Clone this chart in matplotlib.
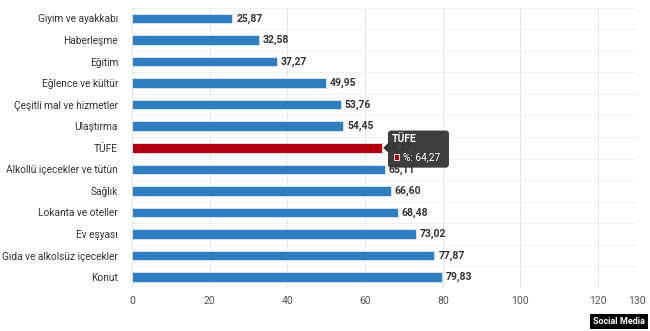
import matplotlib
matplotlib.use("Agg")
import matplotlib.pyplot as plt
from matplotlib.patches import FancyBboxPatch, Rectangle, Polygon

categories = [
    "Giyim ve ayakkabı", "Haberleşme", "Eğitim", "Eğlence ve kültür",
    "Çeşitli mal ve hizmetler", "Ulaştırma", "TÜFE",
    "Alkollü içecekler ve tütün", "Sağlık", "Lokanta ve oteller",
    "Ev eşyası", "Gıda ve alkolsüz içecekler", "Konut",
]
values = [25.87, 32.58, 37.27, 49.95, 53.76, 54.45, 64.27,
          65.11, 66.60, 68.48, 73.02, 77.87, 79.83]
highlight = "TÜFE"
xticks = [0, 20, 40, 60, 80, 100, 120, 130]

plt.rcParams["font.family"] = ["Roboto", "DejaVu Sans"]

fig = plt.figure(figsize=(6.5, 3.31), dpi=100)
ax = fig.add_axes([0.203, 0.13, 0.777, 0.847])

n = len(categories)
ypos = list(range(n))
colors = ["#b0000f" if c == highlight else "#2f7ebf" for c in categories]
ax.barh(ypos, values, height=0.44, color=colors, edgecolor="#dbe8f4",
        linewidth=0.6, zorder=3)

def fmt(v):
    return f"{v:.2f}".replace(".", ",")

for y, v in zip(ypos, values):
    ax.text(v + 1.0, y, fmt(v), va="center", ha="left", fontsize=7.5,
            fontweight="bold", color="#333333", zorder=4)

ax.set_ylim(n - 0.5, -0.5)
ax.set_xlim(0, 130)
ax.set_yticks(ypos)
ax.set_yticklabels(categories, fontsize=7.3, color="#333333")
ax.set_xticks(xticks)
ax.set_xticklabels([str(t) for t in xticks], fontsize=7.5, color="#555555")
ax.tick_params(axis="both", length=0, pad=6)
ax.tick_params(axis="y", pad=10)

# row separators and value gridlines
for b in [i - 0.5 for i in range(n + 1)]:
    ax.axhline(b, color="#eeeeee", linewidth=0.6, zorder=1)
for t in xticks:
    ax.axvline(t, color="#e6e6e6", linewidth=0.7, zorder=1)
for s in ax.spines.values():
    s.set_visible(False)
ax.axhline(n - 0.5, color="#cccccc", linewidth=0.8, zorder=2)

# tooltip for the highlighted bar
hy = categories.index(highlight)
hv = values[hy]
tip_x0, tip_x1 = 65.9, 81.6
tip = FancyBboxPatch((tip_x0, hy - 0.8), tip_x1 - tip_x0, 1.72,
                     boxstyle="round,pad=0,rounding_size=0.8",
                     mutation_aspect=0.18,
                     facecolor="#333333", edgecolor="none", alpha=0.95,
                     zorder=6)
ax.add_patch(tip)
ax.add_patch(Polygon([[tip_x0 + 0.05, hy - 0.22], [tip_x0 + 0.05, hy + 0.22],
                      [hv + 0.4, hy]], closed=True,
                     facecolor="#333333", edgecolor="none", zorder=6))
ax.text(tip_x0 + 1.0, hy - 0.42, highlight, color="white", fontsize=7.5,
        fontweight="bold", va="center", ha="left", zorder=7)
ax.add_patch(Rectangle((tip_x0 + 1.6, hy + 0.42 - 0.13), 1.3, 0.26,
                       facecolor="#b0000f", edgecolor="white", linewidth=0.6,
                       zorder=7))
ax.text(tip_x0 + 3.8, hy + 0.44, f"%: {fmt(hv)}", color="white",
        fontsize=7.3, va="center", ha="left", zorder=7)

# source badge
fig.text(0.992, 0.028, "Social Media", color="white", fontsize=6.5,
         fontweight="bold", ha="right", va="center",
         bbox=dict(boxstyle="square,pad=0.35", facecolor="black",
                   edgecolor="none"))

fig.savefig("out.png", dpi=100, facecolor="white")
